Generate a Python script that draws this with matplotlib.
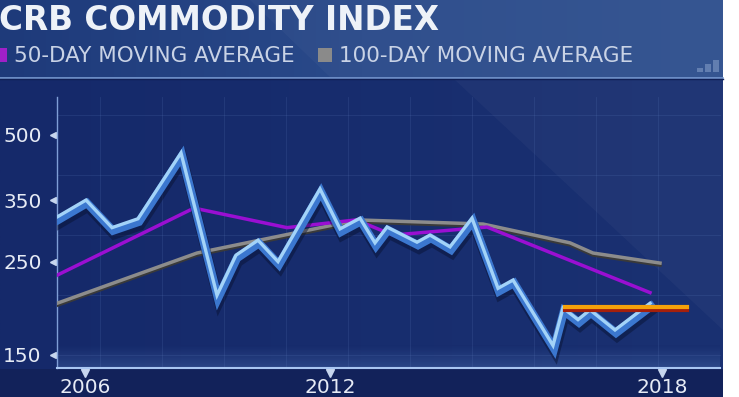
import numpy as np
import matplotlib
matplotlib.use("Agg")
import matplotlib.pyplot as plt
from matplotlib.patches import Rectangle, Polygon
from matplotlib.transforms import offset_copy

# x is a position along the time axis (0 = left edge of the plot)
crb_x = [0, 29, 55, 81, 124, 160, 179, 201, 221, 263, 283, 303, 318, 330,
         360, 373, 393, 415, 441, 456, 496, 506, 521, 533, 558, 593]
crb_y = [319, 350, 301, 316, 453, 208, 259, 281, 250, 372, 299, 317, 277, 302,
         278, 289, 271, 317, 216, 226, 158, 194, 182, 192, 172, 199]

ma50_x = [0, 137, 230, 299, 336, 430, 593]
ma50_y = [232, 335, 301, 314, 289, 302, 211]

ma100_x = [0, 140, 301, 426, 440, 513, 536, 603]
ma100_y = [199, 262, 314, 307, 302, 277, 262, 248]

support_x = [508, 630]
support_y = [195, 195]

year_pos = [28, 273, 605]
year_labels = ["2006", "2012", "2018"]
price_ticks = [500, 350, 250, 150]

W, H = 739, 397
fig = plt.figure(figsize=(W / 100, H / 100), dpi=100, facecolor="white")

# background panel in pixel coordinates
bg = fig.add_axes([0, 0, 1, 1])
bg.set_xlim(0, W)
bg.set_ylim(H, 0)
bg.axis("off")

grad = np.linspace(0, 1, 256).reshape(1, -1)
bg.imshow(grad, extent=[0, 723, H, 77], aspect="auto", zorder=0,
          cmap=matplotlib.colors.LinearSegmentedColormap.from_list(
              "p", ["#15296a", "#1a3172"]))
bg.imshow(grad, extent=[0, 723, 77, 0], aspect="auto", zorder=0,
          cmap=matplotlib.colors.LinearSegmentedColormap.from_list(
              "h", ["#1e3a7a", "#2a4a8a", "#30518f"]))
bg.add_patch(Polygon([(455, 80), (723, 80), (723, 330)], closed=True,
                     facecolor="white", alpha=0.03, lw=0, zorder=1))
bg.add_patch(Polygon([(250, 0), (723, 0), (723, 77), (330, 77)], closed=True,
                     facecolor="white", alpha=0.03, lw=0, zorder=1))
bg.add_patch(Rectangle((0, 369), 723, 28, facecolor="#12225a", lw=0, zorder=1))
bg.imshow(np.linspace(0, 1, 64).reshape(-1, 1), extent=[57, 720, 369, 345],
          aspect="auto", zorder=1, alpha=0.3,
          cmap=matplotlib.colors.LinearSegmentedColormap.from_list(
              "g", ["#15296a", "#5d86c8"]))
bg.plot([0, 723], [77.5, 77.5], color="#7c9fd6", lw=1.2, zorder=2)
bg.plot([0, 723], [79, 79], color="#0f1f55", lw=1, zorder=2)

# faint grid
for gx in range(100, 720, 62):
    bg.plot([gx, gx], [97, 368], color="#5a78b8", lw=0.6, alpha=0.22, zorder=1)
for gy in range(115, 368, 60):
    bg.plot([57, 720], [gy, gy], color="#5a78b8", lw=0.6, alpha=0.22, zorder=1)

# header texts
bg.text(-1, 20, "CRB COMMODITY INDEX", color="#eef2f8", fontsize=23.5,
        fontweight="bold", va="center", ha="left", zorder=3)
bg.add_patch(Rectangle((-2, 48), 9, 14, facecolor="#a020c8", lw=0, zorder=3))
bg.text(14, 55.5, "50-DAY MOVING AVERAGE", color="#c9d3e6", fontsize=15.5,
        va="center", ha="left", zorder=3)
bg.add_patch(Rectangle((318, 48), 14, 14, facecolor="#8a8a8a", lw=0, zorder=3))
bg.text(339, 55.5, "100-DAY MOVING AVERAGE", color="#c9d3e6", fontsize=15.5,
        va="center", ha="left", zorder=3)
for i, h in enumerate([4, 8, 12]):
    bg.add_patch(Rectangle((697 + i * 8, 72 - h), 6, h, facecolor="#8fa8d0",
                           alpha=0.5, lw=0, zorder=3))

# chart axes
ax = fig.add_axes([57 / W, (H - 368) / H, (720 - 57) / W, (368 - 97) / H])
ax.set_facecolor("none")
ax.set_yscale("log")
ax.set_xlim(0, 663)
ax.set_ylim(139.7, 615)
for s in ["top", "right"]:
    ax.spines[s].set_visible(False)
ax.spines["left"].set_color("#7f9ed6")
ax.spines["left"].set_linewidth(1)
ax.spines["bottom"].set_color("#a9c6f2")
ax.spines["bottom"].set_linewidth(1.5)

ax.set_yticks(price_ticks)
ax.set_yticklabels([str(v) for v in price_ticks])
ax.yaxis.set_minor_locator(matplotlib.ticker.NullLocator())
ax.tick_params(axis="y", length=0, pad=11, labelsize=14.5, labelcolor="#e6ebf5")
ax.set_xticks(year_pos)
ax.set_xticklabels(year_labels)
ax.tick_params(axis="x", length=0, pad=7, labelsize=14.5, labelcolor="#e6ebf5")

# little tick triangles
ax.plot([-4] * len(price_ticks), price_ticks, marker="<", ls="none", ms=4,
        color="#c7d6ee", clip_on=False)
ax.plot(year_pos, [136] * len(year_pos), marker="v", ls="none", ms=6,
        color="#c7d6ee", clip_on=False)

# moving averages
sh = offset_copy(ax.transData, fig=fig, x=0, y=-2, units="dots")
ax.plot(ma100_x, ma100_y, color="#3a3a3a", lw=2.5, transform=sh, zorder=3)
ax.plot(ma100_x, ma100_y, color="#8c8c8c", lw=2.5, zorder=4)
ax.plot(ma50_x, ma50_y, color="#9a0fd2", lw=2.5, zorder=5)

# CRB line with 3D ribbon
shadow = offset_copy(ax.transData, fig=fig, x=2, y=-7, units="dots")
ribbon = offset_copy(ax.transData, fig=fig, x=1, y=-3, units="dots")
ax.plot(crb_x, crb_y, color="#07102e", lw=7, alpha=0.45, transform=shadow,
        zorder=5, solid_joinstyle="miter")
ax.plot(crb_x, crb_y, color="#3b77cf", lw=6, transform=ribbon, zorder=6,
        solid_joinstyle="miter")
ax.plot(crb_x, crb_y, color="#a3d3f8", lw=2.4, zorder=7, solid_joinstyle="miter")

# support line
sup = offset_copy(ax.transData, fig=fig, x=0, y=-2.5, units="dots")
ax.plot(support_x, support_y, color="#a5200c", lw=3, transform=sup, zorder=8)
ax.plot(support_x, support_y, color="#f5a10a", lw=3, zorder=9)

fig.savefig("out.png", dpi=100, facecolor="white")
